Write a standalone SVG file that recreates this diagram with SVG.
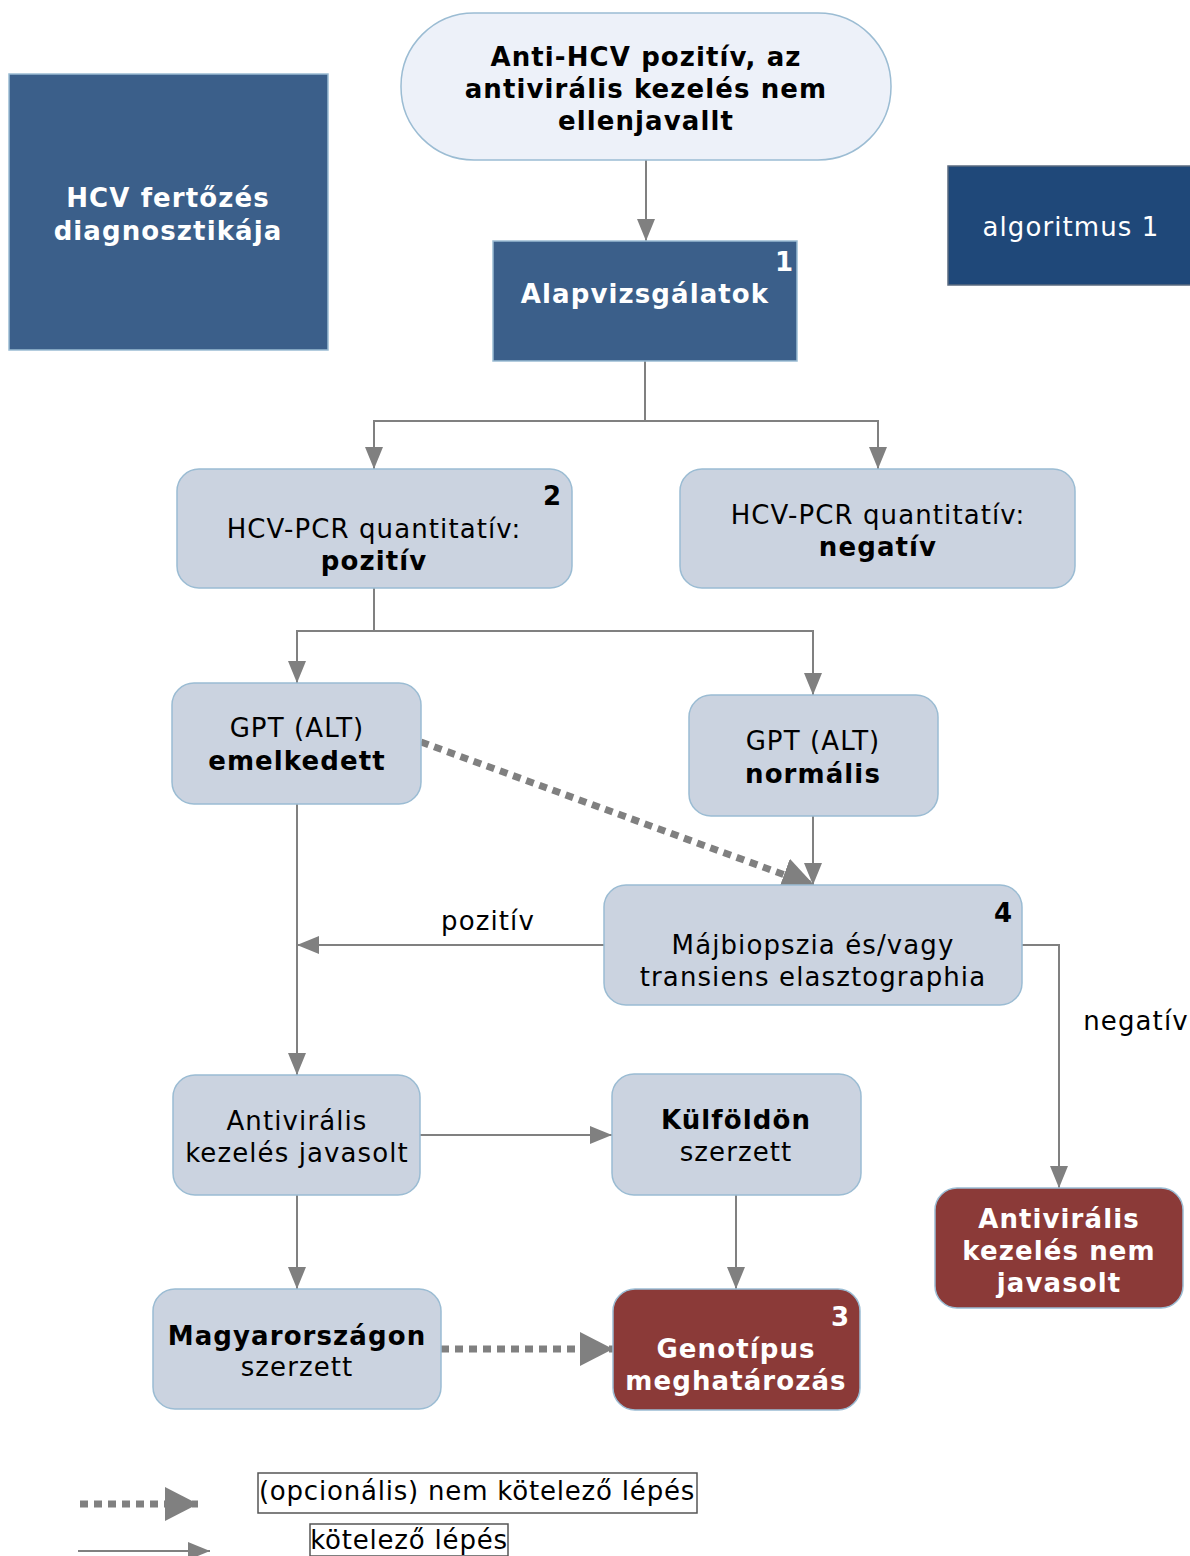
<svg xmlns="http://www.w3.org/2000/svg" width="1190" height="1556" viewBox="0 0 1190 1556">
  <style>
    text { font-family: "DejaVu Sans", Verdana, sans-serif; text-anchor: middle; letter-spacing: 1.1px; }
    .t { font-size: 26px; fill: #000; }
    .b { font-weight: bold; }
    .w { fill: #fff; }
    .num { font-size: 26px; font-weight: bold; text-anchor: end; letter-spacing: 0; }
    .box { fill: #cbd3e0; stroke: #9bbcd3; stroke-width: 1.5; }
    .dark { fill: #3b5f8a; stroke: #9bbcd3; stroke-width: 1.5; }
    .red { fill: #8b3a38; stroke: #9bbcd3; stroke-width: 1.5; }
    .line { fill: none; stroke: #808080; stroke-width: 2; }
    .dots { fill: none; stroke: #808080; stroke-width: 7; stroke-dasharray: 8 6; }
    .legbox { fill: #fff; stroke: #555; stroke-width: 1.5; }
    .leg { letter-spacing: 0.8px; }
  </style>
  <defs>
    <marker id="arr" markerUnits="userSpaceOnUse" markerWidth="24" markerHeight="20" refX="22" refY="9" orient="auto">
      <path d="M0,0 L22,9 L0,18 z" fill="#808080"/>
    </marker>
    <marker id="bigarr" markerUnits="userSpaceOnUse" markerWidth="36" markerHeight="36" refX="33" refY="17" orient="auto">
      <path d="M0,0 L33,17 L0,34 z" fill="#808080"/>
    </marker>
  </defs>
  <rect width="1190" height="1556" fill="#fff"/>

  <!-- connectors -->
  <g id="connectors">
    <path class="line" d="M646,160 L646,241" marker-end="url(#arr)"/>
    <path class="line" d="M645,361 L645,421 L374,421 L374,469" marker-end="url(#arr)"/>
    <path class="line" d="M645,421 L878,421 L878,469" marker-end="url(#arr)"/>
    <path class="line" d="M374,588 L374,631 L297,631 L297,683" marker-end="url(#arr)"/>
    <path class="line" d="M374,631 L813,631 L813,695" marker-end="url(#arr)"/>
    <path class="line" d="M813,816 L813,885" marker-end="url(#arr)"/>
    <path class="dots" d="M421,742 L815,886" marker-end="url(#bigarr)"/>
    <path class="line" d="M604,945 L297,945" marker-end="url(#arr)"/>
    <path class="line" d="M297,804 L297,1075" marker-end="url(#arr)"/>
    <path class="line" d="M1022,945 L1059,945 L1059,1188" marker-end="url(#arr)"/>
    <path class="line" d="M420,1135 L612,1135" marker-end="url(#arr)"/>
    <path class="line" d="M297,1195 L297,1289" marker-end="url(#arr)"/>
    <path class="line" d="M736,1195 L736,1289" marker-end="url(#arr)"/>
    <path class="dots" d="M441,1349 L613,1349" marker-end="url(#bigarr)"/>
    <text class="t" x="488" y="930">pozitív</text>
    <text class="t" x="1136" y="1030">negatív</text>
  </g>

  <!-- title blocks -->
  <g id="title">
    <rect class="dark" x="9" y="74" width="319" height="276"/>
    <text class="t b w" x="168" y="207">HCV fertőzés</text>
    <text class="t b w" x="168" y="240">diagnosztikája</text>
  </g>
  <g id="algo">
    <rect x="948" y="166" width="245" height="119" fill="#1f4879" stroke="#5b6b80" stroke-width="1.5"/>
    <text class="t w" x="1071" y="236">algoritmus 1</text>
  </g>

  <g id="start">
    <rect x="401" y="13" width="490" height="147" rx="73" fill="#edf1f9" stroke="#9bbcd3" stroke-width="1.5"/>
    <text class="t b" x="646" y="66">Anti-HCV pozitív, az</text>
    <text class="t b" x="646" y="98">antivirális kezelés nem</text>
    <text class="t b" x="646" y="130">ellenjavallt</text>
  </g>

  <g id="n1">
    <rect class="dark" x="493" y="241" width="304" height="120"/>
    <text class="t b w" x="645" y="303">Alapvizsgálatok</text>
    <text class="num w" x="793" y="271">1</text>
  </g>

  <g id="n2">
    <rect class="box" x="177" y="469" width="395" height="119" rx="22"/>
    <text class="t" x="374" y="538">HCV-PCR quantitatív:</text>
    <text class="t b" x="374" y="570">pozitív</text>
    <text class="num" x="561" y="505">2</text>
  </g>

  <g id="pcrneg">
    <rect class="box" x="680" y="469" width="395" height="119" rx="22"/>
    <text class="t" x="878" y="524">HCV-PCR quantitatív:</text>
    <text class="t b" x="878" y="556">negatív</text>
  </g>

  <g id="gptup">
    <rect class="box" x="172" y="683" width="249" height="121" rx="22"/>
    <text class="t" x="297" y="737">GPT (ALT)</text>
    <text class="t b" x="297" y="770">emelkedett</text>
  </g>

  <g id="gptnorm">
    <rect class="box" x="689" y="695" width="249" height="121" rx="22"/>
    <text class="t" x="813" y="750">GPT (ALT)</text>
    <text class="t b" x="813" y="783">normális</text>
  </g>

  <g id="n4">
    <rect class="box" x="604" y="885" width="418" height="120" rx="22"/>
    <text class="t" x="813" y="954">Májbiopszia és/vagy</text>
    <text class="t" x="813" y="986">transiens elasztographia</text>
    <text class="num" x="1012" y="922">4</text>
  </g>

  <g id="treat">
    <rect class="box" x="173" y="1075" width="247" height="120" rx="22"/>
    <text class="t" x="297" y="1130">Antivirális</text>
    <text class="t" x="297" y="1162">kezelés javasolt</text>
  </g>

  <g id="abroad">
    <rect class="box" x="612" y="1074" width="249" height="121" rx="22"/>
    <text class="t b" x="736" y="1129">Külföldön</text>
    <text class="t" x="736" y="1161">szerzett</text>
  </g>

  <g id="hungary">
    <rect class="box" x="153" y="1289" width="288" height="120" rx="22"/>
    <text class="t b" x="297" y="1345">Magyarországon</text>
    <text class="t" x="297" y="1376">szerzett</text>
  </g>

  <g id="n3">
    <rect class="red" x="613" y="1289" width="247" height="121" rx="22"/>
    <text class="t b w" x="736" y="1358">Genotípus</text>
    <text class="t b w" x="736" y="1390">meghatározás</text>
    <text class="num w" x="849" y="1326">3</text>
  </g>

  <g id="notreat">
    <rect class="red" x="935" y="1188" width="248" height="120" rx="22"/>
    <text class="t b w" x="1059" y="1228">Antivirális</text>
    <text class="t b w" x="1059" y="1260">kezelés nem</text>
    <text class="t b w" x="1059" y="1292">javasolt</text>
  </g>

  <!-- legend -->
  <g id="legend">
    <path class="dots" d="M80,1504 L198,1504" marker-end="url(#bigarr)"/>
    <path class="line" d="M78,1551 L210,1551" marker-end="url(#arr)"/>
    <rect class="legbox" x="258" y="1473" width="439" height="40"/>
    <text class="t leg" x="477" y="1500">(opcionális) nem kötelező lépés</text>
    <rect class="legbox" x="310" y="1524" width="198" height="32"/>
    <text class="t leg" x="409" y="1549">kötelező lépés</text>
  </g>
</svg>
